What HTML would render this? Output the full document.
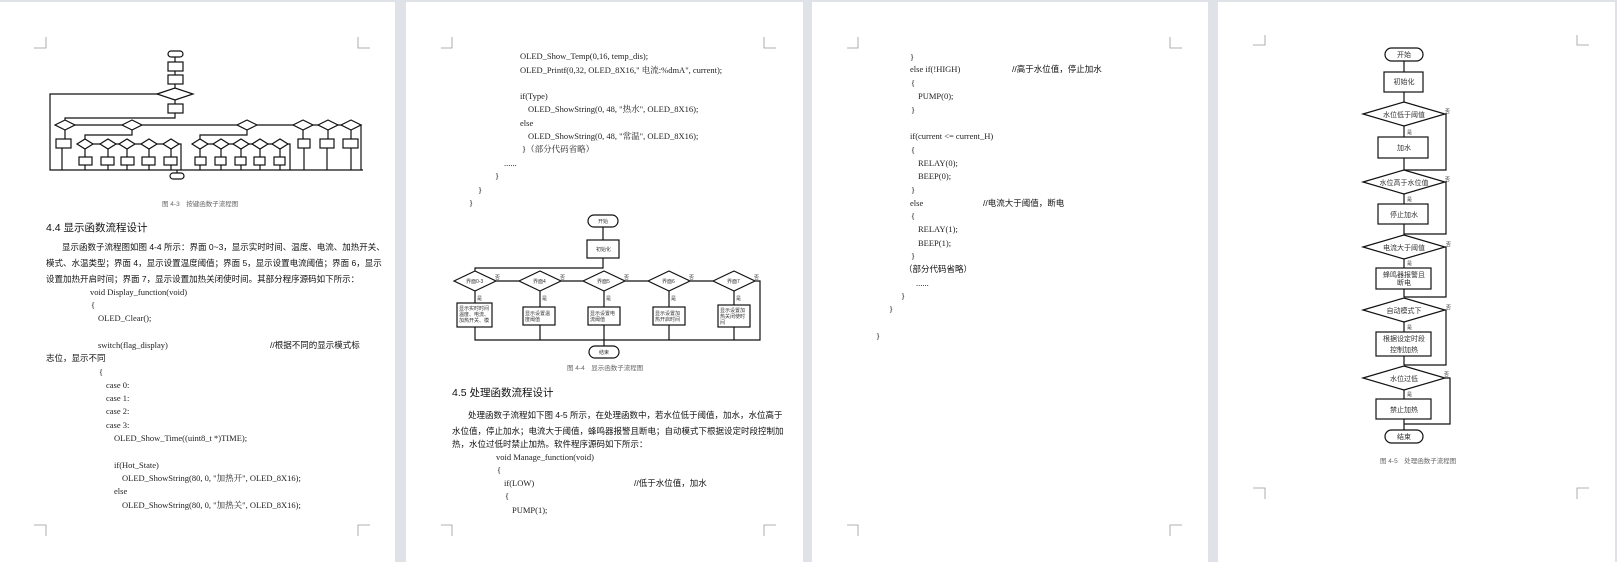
<!DOCTYPE html>
<html><head><meta charset="utf-8"><style>
html,body{margin:0;padding:0;background:#dfe3e8;}
svg{display:block}
.c{font-family:"Liberation Serif","Noto Serif CJK SC",serif;font-size:8.5px;fill:#222}
.z{font-family:"Liberation Sans","Noto Sans CJK SC",sans-serif;font-size:8.5px;fill:#111}
.h{font-family:"Liberation Sans","Noto Sans CJK SC",sans-serif;font-size:10.5px;fill:#111}
.cap{font-family:"Liberation Sans","Noto Sans CJK SC",sans-serif;font-size:6.5px;fill:#666}
.f{font-family:"Liberation Sans","Noto Sans CJK SC",sans-serif;font-size:7px;fill:#333}
.s{font-family:"Liberation Sans","Noto Sans CJK SC",sans-serif;font-size:5px;fill:#333}
.t{font-family:"Liberation Sans","Noto Sans CJK SC",sans-serif;font-size:2.5px;fill:#555}
.ln{stroke:#111;fill:none;stroke-width:1.2}
.bx{stroke:#111;fill:#fff;stroke-width:1.2}
.cm{stroke:#999;fill:none;stroke-width:0.8}
</style></head><body>
<svg width="1617" height="562" viewBox="0 0 1617 562" xmlns="http://www.w3.org/2000/svg">
<rect x="0" y="0" width="1617" height="562" fill="#dfe3e8"/>
<!-- pages -->
<rect x="0" y="2" width="395" height="560" fill="#fff"/>
<rect x="406" y="2" width="397" height="560" fill="#fff"/>
<rect x="812" y="2" width="396" height="560" fill="#fff"/>
<rect x="1218" y="2" width="397" height="560" fill="#fff"/>
<!-- corner marks -->
<g class="cm">
<path d="M34,48H46V37M370,48H358V37M34,525H46V536M370,525H358V536"/>
<path d="M441,48H452V37M776,48H764V37M441,525H452V536M776,525H764V536"/>
<path d="M847,48H858V37M1182,48H1170V37M847,525H858V536M1182,525H1170V536"/>
<path d="M1253,45H1265V35M1589,45H1577V35M1253,488H1265V499M1589,488H1577V499"/>
</g>

<!-- page1 flowchart -->
<g class="ln">
<path d="M175,57V62M175,71V75M175,84V88M175,100V104M175,113V118H65V120M175,94H50V170H363"/>
<path d="M65,125H361V170M65,130V139M132,130V135H85V139M247,130V135H200V139M303,130V139M328,130V139M351,130V139"/>
<path d="M62,148V170M304,148V170M327,148V170M351,148V170"/>
<path d="M85,149V157M108,149V157M127,149V157M149,149V157M171,149V157M85,144H181V170M200,149V157M221,149V157M241,149V157M260,149V157M280,149V157"/>
<path d="M200,144H290V170M85,165V170M108,165V170M127,165V170M149,165V170M171,165V170M200,165V170M221,165V170M241,165V170M260,165V170M280,165V170M177,170V173"/>
</g>
<g class="bx">
<rect x="168" y="51" width="15" height="6" rx="3"/>
<rect x="168" y="62" width="15" height="9"/><rect x="168" y="75" width="15" height="9"/>
<polygon points="157,94 175,88 193,94 175,100"/>
<rect x="168" y="104" width="15" height="9"/>
<polygon points="55,125 65,120 75,125 65,130"/><polygon points="122,125 132,120 142,125 132,130"/>
<polygon points="237,125 247,120 257,125 247,130"/><polygon points="293,125 303,120 313,125 303,130"/>
<polygon points="318,125 328,120 338,125 328,130"/><polygon points="341,125 351,120 361,125 351,130"/>
<rect x="56" y="139" width="15" height="9"/><rect x="298" y="139" width="12" height="9"/>
<rect x="320" y="139" width="14" height="9"/><rect x="343" y="139" width="15" height="9"/>
<polygon points="77,144 85,139 93,144 85,149"/><polygon points="100,144 108,139 116,144 108,149"/>
<polygon points="119,144 127,139 135,144 127,149"/><polygon points="141,144 149,139 157,144 149,149"/>
<polygon points="163,144 171,139 179,144 171,149"/>
<polygon points="192,144 200,139 208,144 200,149"/><polygon points="213,144 221,139 229,144 221,149"/>
<polygon points="233,144 241,139 249,144 241,149"/><polygon points="252,144 260,139 268,144 260,149"/>
<polygon points="272,144 280,139 288,144 280,149"/>
<rect x="79" y="157" width="13" height="8"/><rect x="101" y="157" width="13" height="8"/>
<rect x="121" y="157" width="13" height="8"/><rect x="142" y="157" width="13" height="8"/>
<rect x="164" y="157" width="13" height="8"/>
<rect x="195" y="157" width="11" height="8"/><rect x="215" y="157" width="11" height="8"/>
<rect x="235" y="157" width="11" height="8"/><rect x="254" y="157" width="11" height="8"/>
<rect x="274" y="157" width="11" height="8"/>
<rect x="170" y="173" width="14" height="6" rx="3"/>
</g>
<text class="cap" x="162" y="206">图 4-3　按键函数子流程图</text>
<text class="h" x="46" y="231">4.4  显示函数流程设计</text>
<text class="z" x="62" y="250">显示函数子流程图如图 4-4 所示：界面 0~3，显示实时时间、温度、电流、加热开关、</text>
<text class="z" x="46" y="266">模式、水温类型；界面 4，显示设置温度阈值；界面 5，显示设置电流阈值；界面 6，显示</text>
<text class="z" x="46" y="282">设置加热开启时间；界面 7，显示设置加热关闭使时间。其部分程序源码如下所示：</text>
<text class="c" x="90" y="295">void Display_function(void)</text>
<text class="c" x="91" y="308">{</text>
<text class="c" x="98" y="321">OLED_Clear();</text>
<text class="c" x="98" y="348">switch(flag_display)</text>
<text class="z" x="270" y="348">//根据不同的显示模式标</text>
<text class="z" x="46" y="361">志位，显示不同</text>
<text class="c" x="99" y="375">{</text>
<text class="c" x="106" y="388">case 0:</text>
<text class="c" x="106" y="401">case 1:</text>
<text class="c" x="106" y="414">case 2:</text>
<text class="c" x="106" y="428">case 3:</text>
<text class="c" x="114" y="441">OLED_Show_Time((uint8_t *)TIME);</text>
<text class="c" x="114" y="468">if(Hot_State)</text>
<text class="c" x="122" y="481">OLED_ShowString(80, 0, "加热开", OLED_8X16);</text>
<text class="c" x="114" y="494">else</text>
<text class="c" x="122" y="508">OLED_ShowString(80, 0, "加热关", OLED_8X16);</text>

<!-- page2 -->
<text class="c" x="520" y="59">OLED_Show_Temp(0,16, temp_dis);</text>
<text class="c" x="520" y="73">OLED_Printf(0,32, OLED_8X16," 电流:%dmA", current);</text>
<text class="c" x="520" y="99">if(Type)</text>
<text class="c" x="528" y="112">OLED_ShowString(0, 48, "热水", OLED_8X16);</text>
<text class="c" x="520" y="126">else</text>
<text class="c" x="528" y="139">OLED_ShowString(0, 48, "常温", OLED_8X16);</text>
<text class="c" x="522" y="152">}（部分代码省略）</text>
<text class="c" x="504" y="166">......</text>
<text class="c" x="495" y="179">}</text>
<text class="c" x="478" y="193">}</text>
<text class="c" x="469" y="206">}</text>
<g class="ln">
<path d="M603,227V240M603,258V268H475V271M496,281H519M561,281H583M625,281H648M690,281H713M755,281H760V340H475V327M475,291V303M540,291V307M604,291V307M669,291V307M734,291V307M540,325V340M604,325V346M669,325V340M734,325V340"/>
</g>
<g class="bx">
<rect x="588" y="215" width="30" height="12" rx="6"/>
<rect x="587" y="240" width="32" height="18"/>
<polygon points="454,281 475,271 496,281 475,291"/><polygon points="519,281 540,271 561,281 540,291"/>
<polygon points="583,281 604,271 625,281 604,291"/><polygon points="648,281 669,271 690,281 669,291"/>
<polygon points="713,281 734,271 755,281 734,291"/>
<rect x="457" y="303" width="35" height="24"/><rect x="523" y="307" width="32" height="18"/>
<rect x="588" y="307" width="32" height="18"/><rect x="653" y="307" width="32" height="18"/>
<rect x="718" y="305" width="32" height="22"/>
<rect x="589" y="346" width="30" height="12" rx="6"/>
</g>
<g class="s">
<text x="598" y="223">开始</text><text x="596" y="251">初始化</text>
<text x="466" y="283">界面0-3</text><text x="533" y="283">界面4</text><text x="597" y="283">界面5</text><text x="662" y="283">界面6</text><text x="727" y="283">界面7</text>
<text x="495" y="279">否</text><text x="560" y="279">否</text><text x="624" y="279">否</text><text x="689" y="279">否</text><text x="754" y="279">否</text>
<text x="477" y="300">是</text><text x="542" y="300">是</text><text x="606" y="300">是</text><text x="671" y="300">是</text><text x="736" y="300">是</text>
<text x="459" y="310">显示实时时间</text><text x="459" y="316">温度、电流、</text><text x="459" y="322">加热开关、模</text>
<text x="525" y="315">显示设置温</text><text x="525" y="321">度阈值</text>
<text x="590" y="315">显示设置电</text><text x="590" y="321">流阈值</text>
<text x="655" y="315">显示设置加</text><text x="655" y="321">热开启时间</text>
<text x="720" y="312">显示设置加</text><text x="720" y="318">热关闭使时</text><text x="720" y="324">间</text>
<text x="599" y="354">结束</text>
</g>
<text class="cap" x="567" y="370">图 4-4　显示函数子流程图</text>
<text class="h" x="452" y="396">4.5  处理函数流程设计</text>
<text class="z" x="468" y="418">处理函数子流程如下图 4-5 所示，在处理函数中，若水位低于阈值，加水，水位高于</text>
<text class="z" x="452" y="434">水位值，停止加水；电流大于阈值，蜂鸣器报警且断电；自动模式下根据设定时段控制加</text>
<text class="z" x="452" y="447">热，水位过低时禁止加热。软件程序源码如下所示：</text>
<text class="c" x="496" y="460">void Manage_function(void)</text>
<text class="c" x="497" y="473">{</text>
<text class="c" x="504" y="486">if(LOW)</text>
<text class="z" x="634" y="486">//低于水位值，加水</text>
<text class="c" x="505" y="499">{</text>
<text class="c" x="512" y="513">PUMP(1);</text>

<!-- page3 -->
<text class="c" x="910" y="60">}</text>
<text class="c" x="910" y="72">else if(!HIGH)</text>
<text class="z" x="1012" y="72">//高于水位值，停止加水</text>
<text class="c" x="911" y="86">{</text>
<text class="c" x="918" y="99">PUMP(0);</text>
<text class="c" x="911" y="113">}</text>
<text class="c" x="910" y="139">if(current &lt;= current_H)</text>
<text class="c" x="911" y="153">{</text>
<text class="c" x="918" y="166">RELAY(0);</text>
<text class="c" x="918" y="179">BEEP(0);</text>
<text class="c" x="911" y="193">}</text>
<text class="c" x="910" y="206">else</text>
<text class="z" x="983" y="206">//电流大于阈值，断电</text>
<text class="c" x="911" y="219">{</text>
<text class="c" x="918" y="232">RELAY(1);</text>
<text class="c" x="918" y="246">BEEP(1);</text>
<text class="c" x="911" y="259">}</text>
<text class="z" x="904" y="272">（部分代码省略）</text>
<text class="c" x="916" y="286">......</text>
<text class="c" x="901" y="299">}</text>
<text class="c" x="889" y="312">}</text>
<text class="c" x="876" y="339">}</text>

<!-- page4 -->
<g class="ln">
<path d="M1404,61V72M1404,92V102M1404,126V137M1404,158V170M1445,114H1446V170H1404V170"/>
<path d="M1404,194V204M1404,224V235M1445,182H1446V234H1404"/>
<path d="M1404,259V268M1404,289V297M1445,247H1446V297H1404"/>
<path d="M1404,322V332M1404,356V365M1445,310H1446V365H1404"/>
<path d="M1404,390V399M1404,419V430M1445,378H1450V424H1404"/>
</g>
<g class="bx">
<rect x="1385" y="48" width="38" height="13" rx="6.5"/>
<rect x="1384" y="72" width="39" height="20"/>
<polygon points="1363,114 1404,102 1445,114 1404,126"/>
<rect x="1378" y="137" width="50" height="21"/>
<polygon points="1363,182 1404,170 1445,182 1404,194"/>
<rect x="1378" y="204" width="50" height="20"/>
<polygon points="1363,247 1404,235 1445,247 1404,259"/>
<rect x="1376" y="268" width="55" height="21"/>
<polygon points="1363,310 1404,298 1445,310 1404,322"/>
<rect x="1376" y="332" width="55" height="24"/>
<polygon points="1363,378 1404,366 1445,378 1404,390"/>
<rect x="1376" y="399" width="55" height="20"/>
<rect x="1385" y="430" width="38" height="13" rx="6.5"/>
</g>
<g class="f" text-anchor="middle">
<text x="1404" y="57">开始</text><text x="1404" y="84">初始化</text>
<text x="1404" y="117">水位低于阈值</text><text x="1404" y="150">加水</text>
<text x="1404" y="185">水位高于水位值</text><text x="1404" y="217">停止加水</text>
<text x="1404" y="250">电流大于阈值</text>
<text x="1404" y="277">蜂鸣器报警且</text><text x="1404" y="285">断电</text>
<text x="1404" y="313">自动模式下</text>
<text x="1404" y="341">根据设定时段</text><text x="1404" y="352">控制加热</text>
<text x="1404" y="381">水位过低</text><text x="1404" y="412">禁止加热</text>
<text x="1404" y="439">结束</text>
</g>
<g class="s">
<text x="1445" y="113">否</text><text x="1445" y="181">否</text><text x="1446" y="246">否</text><text x="1446" y="309">否</text><text x="1444" y="376">否</text>
<text x="1407" y="134">是</text><text x="1407" y="201">是</text><text x="1407" y="265">是</text><text x="1407" y="329">是</text><text x="1407" y="396">是</text>
</g>
<text class="cap" x="1380" y="463">图 4-5　处理函数子流程图</text>
</svg>
</body></html>
